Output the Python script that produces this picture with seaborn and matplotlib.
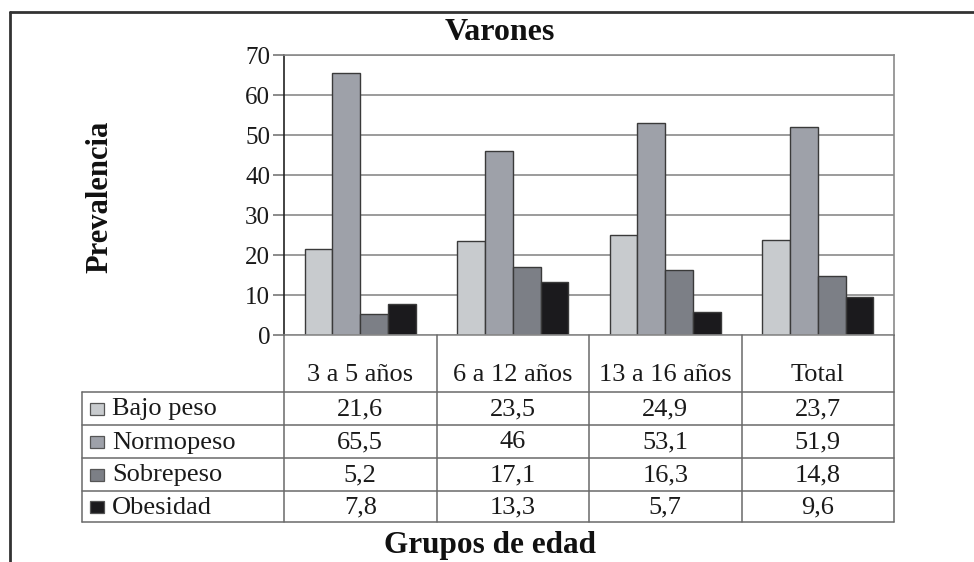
import matplotlib
matplotlib.use("Agg")
import matplotlib.pyplot as plt
import seaborn as sns
import pandas as pd
from matplotlib.patches import Rectangle

# ---------------- data ----------------
categories = ["3 a 5 años", "6 a 12 años", "13 a 16 años", "Total"]
series = ["Bajo peso", "Normopeso", "Sobrepeso", "Obesidad"]
bajo_peso = [21.6, 23.5, 24.9, 23.7]
normopeso = [65.5, 46, 53.1, 51.9]
sobrepeso = [5.2, 17.1, 16.3, 14.8]
obesidad = [7.8, 13.3, 5.7, 9.6]
y_ticks = [0, 10, 20, 30, 40, 50, 60, 70]
title = "Varones"
y_label = "Prevalencia"
x_label = "Grupos de edad"
colors = ["#c8cbce", "#9ea1a9", "#7c7f86", "#1b1a1d"]

values = [bajo_peso, normopeso, sobrepeso, obesidad]


def fmt(v):
    s = f"{v:.1f}".rstrip("0").rstrip(".")
    return s.replace(".", ",")


rows = []
for s, vals in zip(series, values):
    for c, v in zip(categories, vals):
        rows.append({"grupo": c, "serie": s, "valor": v})
df = pd.DataFrame(rows)

# ---------------- figure ----------------
W, H = 974, 562
sns.set_style("white")
plt.rcParams["font.family"] = ["Liberation Serif", "DejaVu Serif"]
fig = plt.figure(figsize=(W / 100, H / 100), dpi=100)


def fx(px):
    return px / W


def fy(py):
    return 1 - py / H


PL, PR, PT, PB = 284, 894, 55, 335
ax = fig.add_axes([fx(PL), fy(PB), (PR - PL) / W, (PB - PT) / H])
sns.barplot(data=df, x="grupo", y="valor", hue="serie", order=categories,
            hue_order=series, palette=colors, width=0.73, edgecolor="#3a3a3a",
            linewidth=1.0, ax=ax, legend=False, saturation=1)
ax.set_xlim(-0.5, len(categories) - 0.5)
ax.set_ylim(0, 70)
ax.set_yticks(y_ticks)
ax.set_xticks([])
ax.set_xlabel("")
ax.set_ylabel("")
ax.yaxis.grid(True, color="#8a8a8a", lw=1.2)
ax.set_axisbelow(True)
ax.tick_params(axis="y", left=True, length=8, width=1.2, color="#777777",
               labelsize=18, pad=2, labelcolor="#1a1a1a")
for side, sp in ax.spines.items():
    sp.set_visible(True)
    sp.set_color("#8a8a8a")
    sp.set_linewidth(1.2)
ax.spines["left"].set_color("#222222")

# ---------------- table overlay ----------------
tab = fig.add_axes([0, 0, 1, 1], zorder=5)
tab.set_xlim(0, W)
tab.set_ylim(H, 0)
tab.axis("off")
tab.patch.set_alpha(0)

lc = "#6a6a6a"
TS = 19
col_w = (PR - PL) / len(categories)
col_edges = [PL + i * col_w for i in range(len(categories) + 1)]
row_edges = [392, 425, 458, 491, 522]
TL = 82

for xe in col_edges:
    tab.plot([xe, xe], [PB, row_edges[-1]], color=lc, lw=1.1)
for ye in row_edges:
    tab.plot([TL, PR], [ye, ye], color=lc, lw=1.1)
tab.plot([TL, TL], [row_edges[0], row_edges[-1]], color=lc, lw=1.1)

for i, c in enumerate(categories):
    cx = (col_edges[i] + col_edges[i + 1]) / 2
    tab.text(cx, 375, c, ha="center", va="center", fontsize=TS, color="#1a1a1a")

for r, (s, vals, col) in enumerate(zip(series, values, colors)):
    cy = (row_edges[r] + row_edges[r + 1]) / 2
    tab.add_patch(Rectangle((90, cy - 6), 14, 12, facecolor=col,
                            edgecolor="#555555", lw=0.9))
    tab.text(112, cy + 1, s, ha="left", va="center", fontsize=TS, color="#1a1a1a")
    for i, v in enumerate(vals):
        cx = (col_edges[i] + col_edges[i + 1]) / 2
        tab.text(cx, cy + 1, fmt(v), ha="center", va="center", fontsize=TS,
                 color="#1a1a1a")

# outer frame (partially visible)
tab.plot([10, 10], [12, H], color="#333333", lw=2)
tab.plot([10, W], [12, 12], color="#333333", lw=2)

# titles
tab.text(500, 33, title, ha="center", va="center", fontsize=23,
         fontweight="bold", color="#111111")
tab.text(100, 197, y_label, ha="center", va="center", rotation=90,
         fontsize=22, fontweight="bold", color="#111111")
tab.text(490, 545, x_label, ha="center", va="center", fontsize=22.5,
         fontweight="bold", color="#111111")

fig.savefig("out.png", dpi=100)
